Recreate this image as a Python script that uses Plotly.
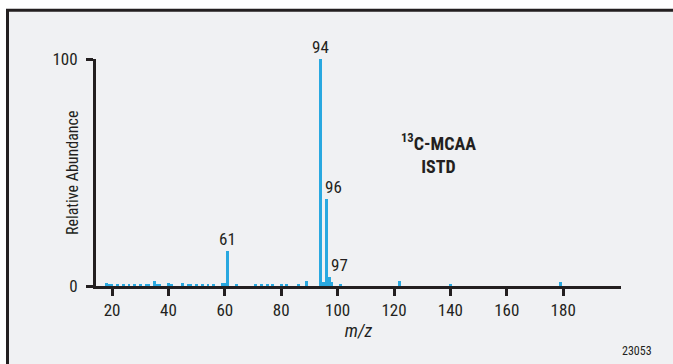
import plotly.graph_objects as go

# Mass spectrum of the 13C-MCAA internal standard
mz = [18, 19, 20, 22, 24, 26, 28, 30, 32, 33, 35, 36, 37, 40, 41, 45, 47, 48,
      50, 52, 54, 56, 59, 60, 61, 64, 71, 73, 75, 77, 80, 82, 86, 89,
      94, 95, 96, 97, 98, 101, 122, 140, 179]
abundance = [1.4, 0.6, 0.8, 0.5, 0.5, 0.6, 0.5, 0.5, 0.6, 0.5, 2.1, 0.6, 1.1, 1.4, 0.5, 1.4, 0.6, 0.8,
             0.5, 0.6, 1.1, 0.5, 1.2, 1.4, 15.3, 0.6, 0.6, 0.5, 0.9, 0.6, 0.6, 0.5, 0.7, 2.4,
             100, 1.7, 38.4, 3.9, 1.7, 1.1, 2.1, 0.6, 1.7]

# Peaks that carry an m/z label, with horizontal label offsets (px)
labelled = [94, 96, 61, 97]
label_shift = [0, 7, 0, 10]

x_ticks = [20, 40, 60, 80, 100, 120, 140, 160, 180]
y_ticks = [0, 100]

FONT = "Liberation Sans Narrow, Arial Narrow, Roboto Condensed, sans-serif"
BAR = "#29a8e0"
INK = "#231f20"

# Plot area in pixels
L, R, T, B = 96, 621, 58.5, 286.5
W, H = R - L, B - T


def px(x):
    return (x - L) / W


def py(y):
    return (B - y) / H


fig = go.Figure()
fig.add_trace(go.Bar(x=mz, y=abundance, width=1.0, marker=dict(color=BAR, line=dict(width=0)),
                     hoverinfo="x+y"))

annotations = []
for m, dx in zip(labelled, label_shift):
    annotations.append(dict(x=m, y=abundance[mz.index(m)], xref="x", yref="y",
                            text=str(m), showarrow=False, xanchor="center", yanchor="bottom",
                            xshift=dx, yshift=0, font=dict(family=FONT, size=17, color=INK)))

# Compound label
annotations.append(dict(x=px(438), y=py(153), xref="paper", yref="paper",
                        text="<b><sup>13</sup>C-MCAA<br>ISTD</b>", showarrow=False,
                        xanchor="center", yanchor="middle", align="center",
                        font=dict(family=FONT, size=18, color=INK)))
# Y axis title
annotations.append(dict(x=px(73), y=py(173), xref="paper", yref="paper",
                        text="Relative Abundance", showarrow=False, textangle=-90,
                        xanchor="center", yanchor="middle",
                        font=dict(family=FONT, size=16, color=INK)))
# Figure number
annotations.append(dict(x=px(637), y=py(352), xref="paper", yref="paper",
                        text="23053", showarrow=False, xanchor="center", yanchor="middle",
                        font=dict(family=FONT, size=12, color=INK)))

fig.update_layout(
    width=673, height=364,
    margin=dict(l=L, r=673 - R, t=T, b=364 - B),
    paper_bgcolor="white",
    plot_bgcolor="rgba(0,0,0,0)",
    showlegend=False,
    bargap=0,
    font=dict(family=FONT, size=17, color=INK),
    annotations=annotations,
    shapes=[dict(type="rect", xref="paper", yref="paper", layer="below",
                 x0=px(7.5), x1=px(720), y0=py(420), y1=py(9.5),
                 fillcolor="#f0f1f3", line=dict(color=INK, width=3))],
    xaxis=dict(range=[14.3, 200.5], tickvals=x_ticks, ticks="outside", ticklen=7, tickwidth=3,
               tickcolor=INK, showline=True, linecolor=INK, linewidth=3, showgrid=False,
               zeroline=False, tickfont=dict(family=FONT, size=17, color=INK),
               title=dict(text="<i>m/z</i>", font=dict(family=FONT, size=18, color=INK), standoff=4)),
    yaxis=dict(range=[0, 100], tickvals=y_ticks, ticks="outside", ticklen=7, tickwidth=3,
               tickcolor=INK, showline=True, linecolor=INK, linewidth=3, showgrid=False,
               zeroline=False, ticklabelstandoff=5, tickfont=dict(family=FONT, size=17, color=INK)),
)

fig.write_html("out.html")
